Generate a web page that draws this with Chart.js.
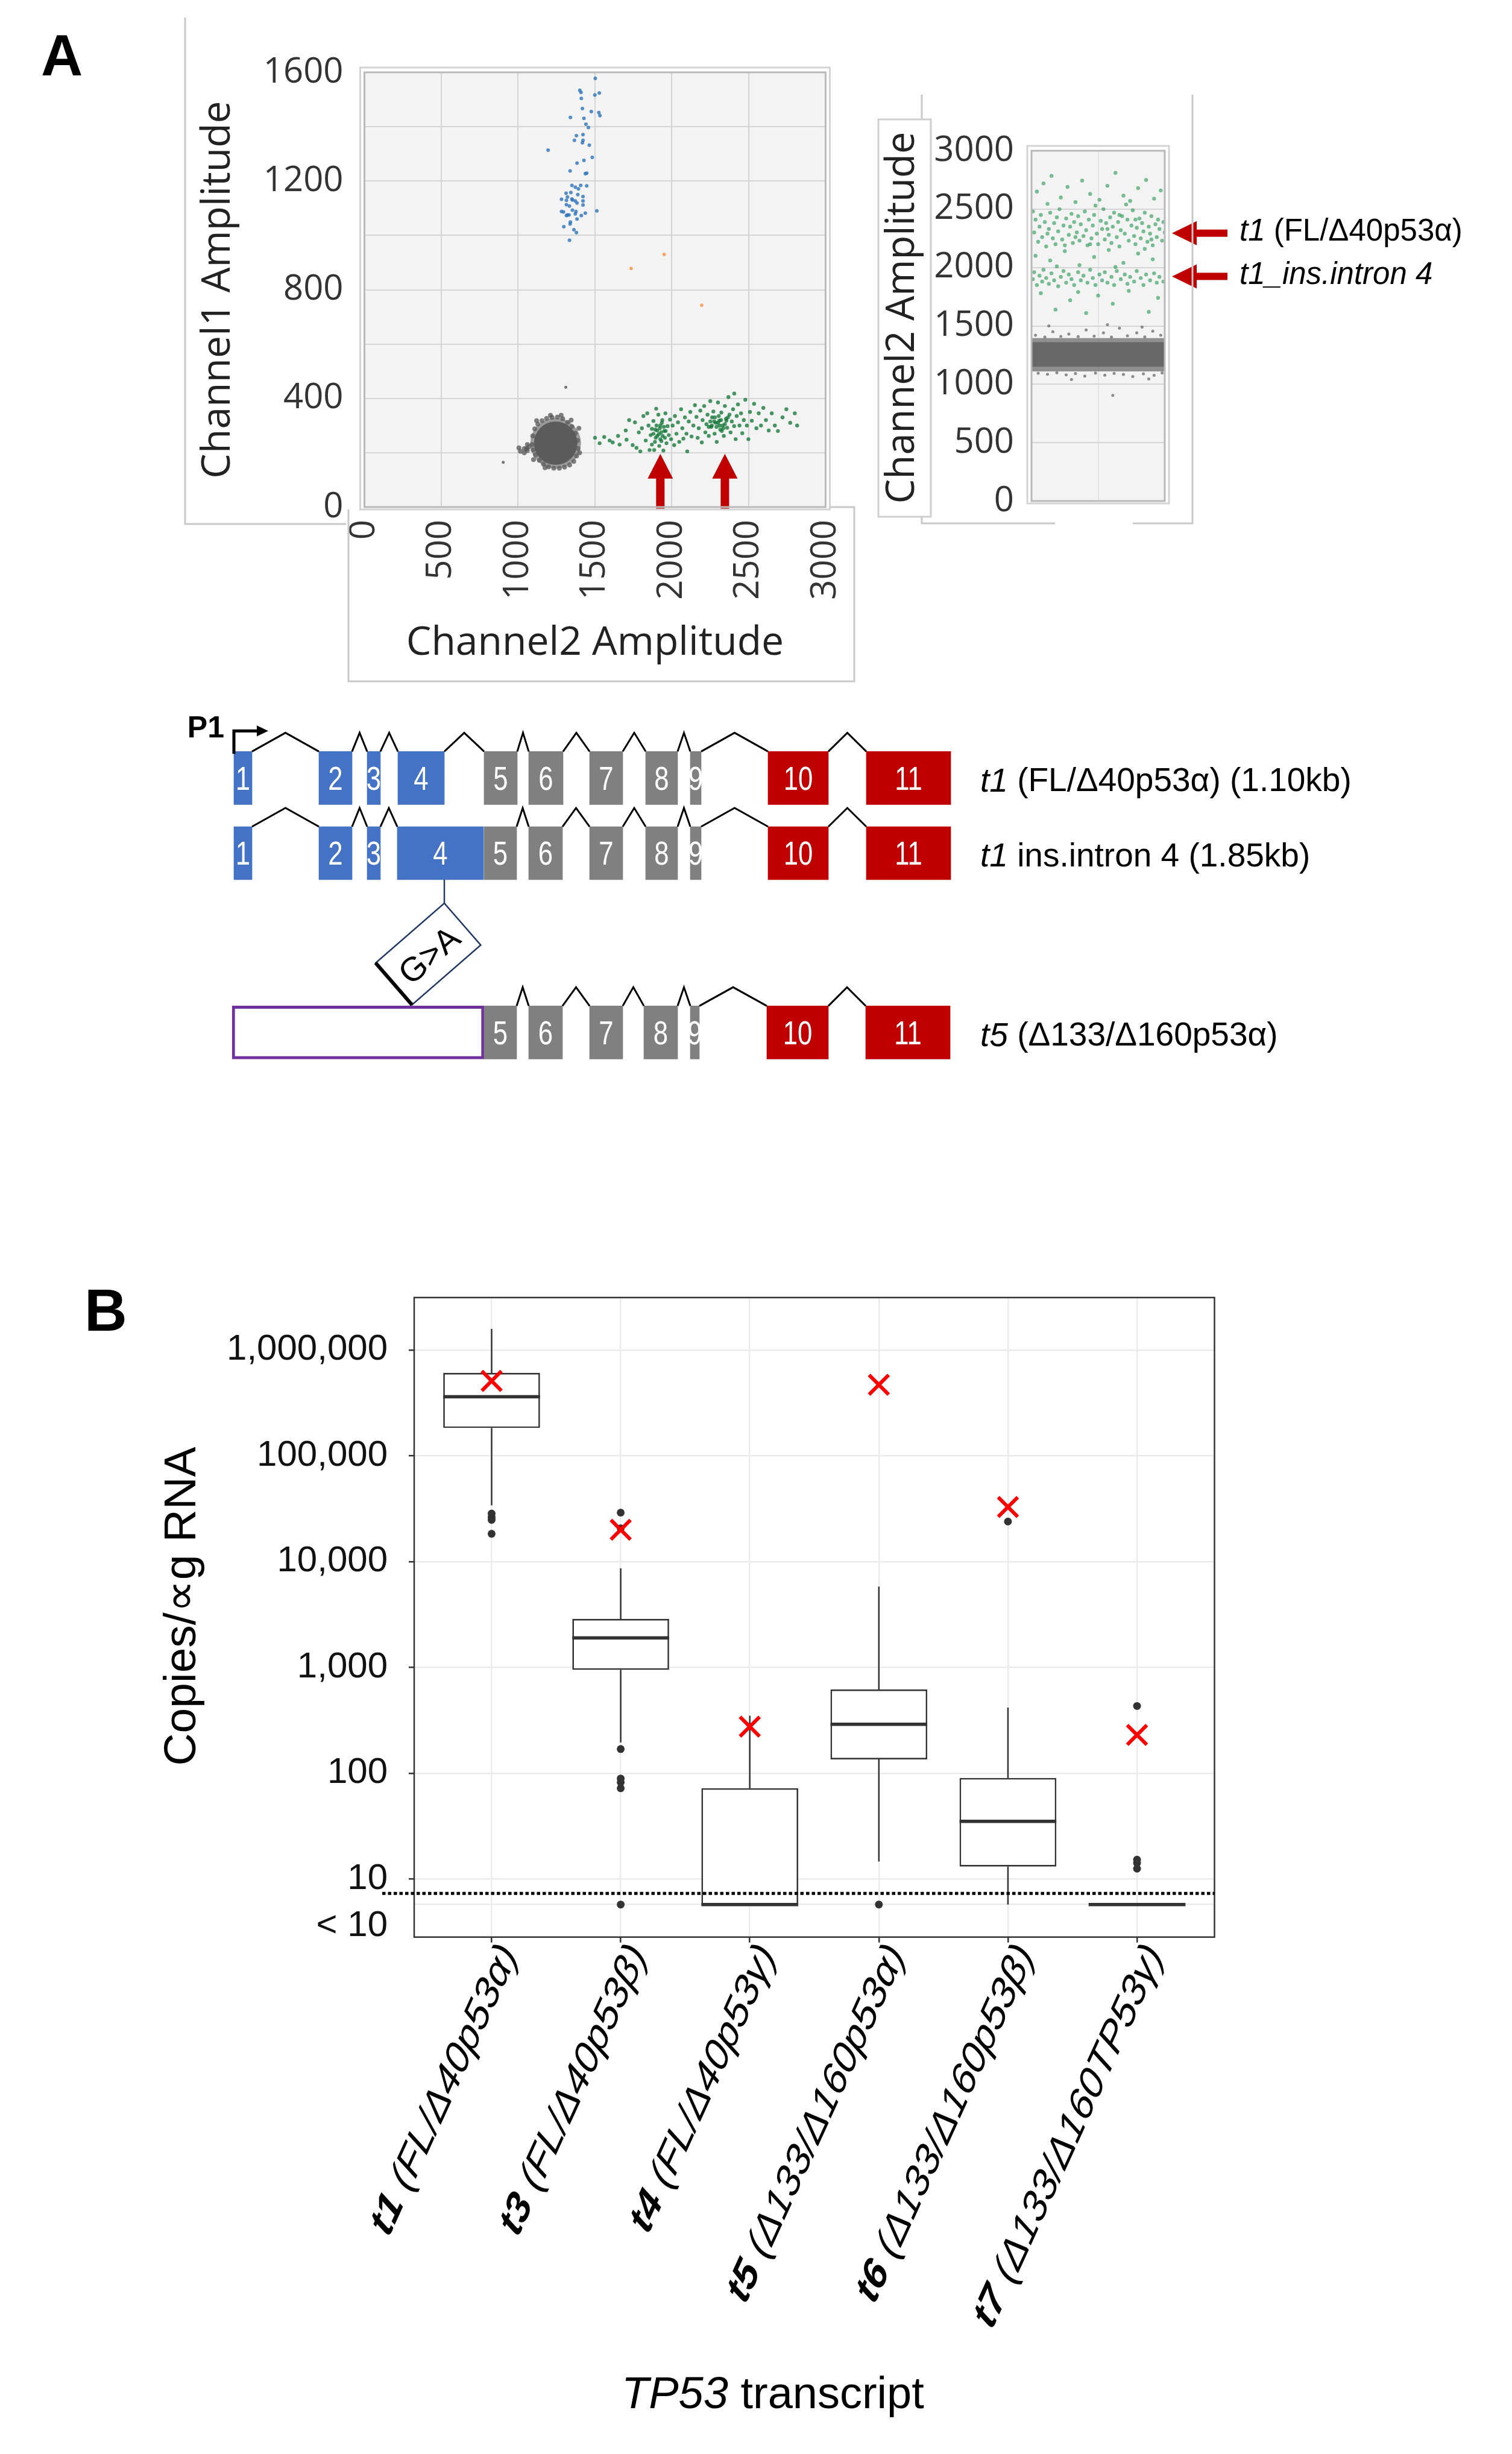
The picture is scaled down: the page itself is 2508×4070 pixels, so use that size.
<!DOCTYPE html>
<html>
<head>
<meta charset="utf-8">
<script src="https://cdn.jsdelivr.net/npm/chart.js@4.4.1/dist/chart.umd.min.js"></script>
<style>
  html, body { margin: 0; padding: 0; background: #fff; }
  body { width: 2508px; height: 4070px; position: relative; overflow: hidden; }
  .panel { position: absolute; left: 0; }
</style>
</head>
<body>
<div class="panel" style="top:0"><canvas id="drops2d" width="1460" height="1160"></canvas></div>
<div class="panel" style="top:0"><canvas id="drops1d" width="2508" height="900"></canvas></div>
<div class="panel" style="top:1150px"><canvas id="exons" width="2508" height="650"></canvas></div>
<div class="panel" style="top:2050px"><canvas id="boxes" width="2508" height="2020"></canvas></div>
<script>
// ---------- panel A : 2D droplet plot (Channel2 x, Channel1 y) ----------
const ch1Drops = [[1502,1578],[1401,1534],[1409,1526],[1411,1504],[1499,1517],[1528,1524],[1418,1467],[1476,1456],
  [1525,1452],[1532,1441],[1340,1434],[1428,1431],[1441,1409],[1457,1397],[1379,1367],[1366,1350],[1422,1371],
  [1422,1350],[1418,1341],[1463,1332],[1195,1314],[1482,1287],[1428,1276],[1383,1266],[1338,1237],[1437,1227],
  [1446,1229],[1350,1184],[1372,1177],[1407,1184],[1446,1182],[1312,1155],[1343,1158],[1388,1150],[1422,1143],
  [1321,1141],[1282,1133],[1314,1129],[1353,1130],[1372,1127],[1383,1119],[1422,1127],[1314,1113],[1334,1108],
  [1422,1112],[1353,1093],[1282,1088],[1314,1073],[1331,1075],[1372,1079],[1376,1088],[1411,1073],[1437,1082],
  [1512,1090],[1383,1060],[1340,1049],[1338,1042],[1297,1032],[1363,1021],[1379,1010],[1334,982],[1321,1075],
  [1295,1086],[1350,1134],[1392,1171]];
const ch2Drops = [[1500,255],[1530,235],[1560,258],[1595,245],[1615,238],[1650,262],[1660,230],[1700,282],
  [1705,248],[1722,320],[1745,228],[1760,312],[1770,218],[1785,275],[1795,205],[1805,290],[1815,335],[1830,245],
  [1840,345],[1848,300],[1855,210],[1862,265],[1870,230],[1880,317],[1885,210],[1892,285],[1898,362],[1905,262],
  [1912,340],[1918,225],[1925,300],[1932,243],[1938,320],[1945,208],[1950,280],[1958,345],[1965,235],[1972,298],
  [1980,265],[1988,322],[1995,250],[2005,300],[2015,228],[2020,335],[2030,270],[2040,312],[2048,240],[2060,360],
  [2068,290],[2075,252],[2085,330],[2095,270],[2100,205],[2110,315],[2120,350],[2128,260],[2140,300],[2150,375],
  [2160,332],[2168,255],[2175,290],[2185,355],[2195,238],[2200,320],[2210,372],[2218,275],[2225,305],[2232,340],
  [2240,262],[2250,390],[2256,295],[2262,330],[2270,352],[2278,270],[2285,310],[2292,240],[2300,385],[2308,318],
  [2315,285],[2322,348],[2330,300],[2338,262],[2345,372],[2352,325],[2360,292],[2368,405],[2375,340],[2382,275],
  [2390,315],[2398,360],[2405,298],[2415,250],[2422,335],[2430,378],[2440,300],[2450,345],[2458,272],[2468,320],
  [2478,395],[2488,300],[2498,250],[2508,350],[2520,318],[2535,380],[2550,290],[2565,345],[2580,300],[2595,365],
  [2612,320],[2630,282],[2650,345],[2670,300],[2690,280],[2720,330],[2745,360],[2770,310],[2800,345],[2815,300],
  [2406,418],[1880,270],[1895,255],[1905,282],[1915,268],[1922,290],[1930,275],[1940,262],[1948,295],[1900,300],
  [1925,250],[1960,280],[1870,288],[1935,310],[1890,240],[1955,255],[2260,300],[2275,315],[2290,295],[2300,310],
  [2310,300],[2320,320],[2335,290],[2280,330],[2305,335],[2345,305],[2250,315],[2325,280],[2355,318],[2240,295],
  [2365,330]];
const negCenter = [[1244,235]];
const negEdge = [[1090,230],[1095,262],[1108,288],[1128,305],[1155,318],[1185,326],[1220,330],[1255,331],
  [1290,325],[1322,312],[1350,296],[1372,272],[1386,245],[1390,215],[1380,188],[1362,168],[1335,155],[1302,147],
  [1268,143],[1232,143],[1198,148],[1165,158],[1138,172],[1112,192],[1097,210],[1070,222],[1060,208],[1395,290],
  [1120,318],[1400,200],[1345,320],[1175,145],[1280,338],[1210,338],[1100,175],[1060,230],[1040,215],[1005,218],
  [1015,205],[1040,200],[1055,215]];
const negStray = [[1310,441],[903,165]];
const doubleDrops = [[1735,878],[1950,930],[2194,743]];
const arrowX2d = [1925, 2345];
const arrowTip2d = 196;

// ---------- panel A : 1D Channel2 amplitude vs. event ----------
const ch2Events = [[4,2650],[9,2720],[15,2785],[22,2600],[27,2690],[33,2560],[38,2745],[44,2630],[51,2580],
  [57,2700],[63,2810],[69,2615],[74,2570],[80,2680],[86,2750],[92,2590],[97,2660],[48,2530],[12,2545],[71,2540],
  [1,2480],[2,2300],[3,2410],[5,2220],[6,2350],[7,2450],[8,2260],[10,2390],[11,2180],[13,2330],[14,2470],
  [16,2250],[17,2380],[18,2200],[19,2430],[20,2310],[21,2500],[23,2240],[24,2360],[25,2190],[26,2420],[28,2280],
  [29,2350],[30,2460],[31,2210],[32,2390],[34,2300],[35,2440],[36,2230],[37,2370],[39,2270],[40,2480],[41,2320],
  [42,2190],[43,2410],[45,2250],[46,2360],[47,2450],[49,2290],[50,2200],[52,2400],[53,2330],[54,2500],[55,2240],
  [56,2380],[58,2280],[59,2430],[60,2210],[61,2350],[62,2470],[64,2260],[65,2390],[66,2180],[67,2320],[68,2440],
  [70,2290],[72,2410],[73,2230],[75,2360],[76,2490],[77,2270],[78,2200],[79,2340],[81,2420],[82,2250],[83,2380],
  [84,2310],[85,2470],[87,2220],[88,2350],[89,2290],[90,2440],[91,2190],[93,2370],[94,2260],[95,2410],[96,2330],
  [98,2230],[99,2390],[100,2300],[12,2290],[33,2260],[57,2330],[78,2410],[44,2200],[66,2450],[90,2240],
  [3,2100],[14,2060],[25,2140],[36,2020],[47,2090],[58,2150],[69,2040],[80,2120],[91,2070],[19,2010],[63,2005],
  [85,2160],[1,1900],[2,1960],[4,1850],[6,1930],[8,1880],[9,1980],[11,1910],[13,1860],[15,1950],[17,1890],
  [20,1840],[22,1920],[24,1970],[26,1870],[28,1940],[30,1900],[32,1850],[35,1960],[37,1890],[39,1930],[42,1870],
  [44,1980],[46,1910],[48,1850],[51,1940],[53,1890],[55,1960],[57,1870],[60,1920],[62,1850],[64,1970],[67,1900],
  [70,1940],[72,1860],[74,1920],[77,1880],[79,1970],[82,1910],[84,1850],[86,1940],[89,1890],[92,1950],[94,1870],
  [96,1920],[99,1880],[7,1780],[18,1640],[29,1720],[41,1610],[50,1760],[61,1690],[73,1800],[88,1620],[95,1740],
  [35,1790]];
const negEvents = [[3,1420],[10,1405],[16,1450],[22,1410],[28,1430],[35,1408],[41,1465],[47,1412],[54,1440],
  [60,1404],[66,1480],[72,1415],[79,1440],[85,1406],[91,1455],[97,1420],[13,1500],[57,1510],[83,1490],[5,1095],
  [12,1085],[19,1098],[26,1080],[33,1092],[40,1070],[48,1096],[55,1078],[62,1094],[69,1084],[76,1066],[84,1090],
  [92,1076],[98,1097],[30,1040],[88,1045],[61,905]];
const negBandOuter = [1110, 1395];
const negBandCore = [1150, 1360];
const eventRange = [0, 100];
const arrowY1d = [2294, 1924];

// ---------- exon maps ----------
const rowPos = [0, 1, 3.384];
const exonsT1 = [[8,38],[149,204],[229,251],[280,357],[423,478],[497,554],[598,653],[691,744],[765,783],[894,994],[1057,1197]];
const exonsIntron4 = [[8,38],[149,204],[229,251],[279,422],[423,477],[497,553],[598,653],[691,744],[765,783],[894,994],[1057,1197]];
const exonsT5 = [[423,477],[497,553],[598,653],[688,744],[765,780],[892,994],[1056,1196]];
const t5NewStart = [5, 423];
const exonNames = [
  ['1','2','3','4','5','6','7','8','9','10','11'],
  ['1','2','3','4','5','6','7','8','9','10','11'],
  ['5','6','7','8','9','10','11']];
const transcriptTags = [['t1', ' (FL/\u039440p53\u03b1) (1.10kb)'], ['t1', ' ins.intron 4 (1.85kb)'], ['t5', ' (\u0394133/\u0394160p53\u03b1)']];
const mutationSite = 357;

// ---------- panel B : copies per ug RNA ----------
const transcriptIds = ['t1', 't3', 't4', 't5', 't6', 't7'];
const transcriptNames = [' (FL/\u039440p53\u03b1)', ' (FL/\u039440p53\u03b2)', ' (FL/\u039440p53\u03b3)',
  ' (\u0394133/\u0394160p53\u03b1)', ' (\u0394133/\u0394160p53\u03b2)', ' (\u0394133/\u0394160TP53\u03b3)'];
const BELOW_10 = 5.73;
const q1 = [1.83e5, 948, BELOW_10, 135, 13.1, BELOW_10];
const median = [3.62e5, 1900, BELOW_10, 290, 35, BELOW_10];
const q3 = [6.07e5, 2865, 72, 617, 90, BELOW_10];
const whiskerLo = [3.4e4, 195, null, 14.6, BELOW_10, null];
const whiskerHi = [1.58e6, 8630, 349, 5800, 417, null];
const outliers = [[2.84e4, 2.62e4, 2.48e4, 1.83e4], [2.9e4, 2.06e4, 169, 89, 82, 72, BELOW_10], [],
  [BELOW_10], [2.39e4], [431, 15.2, 14.1, 12.5]];
const cellLine = [5.1e5, 2.0e4, 275, 4.69e5, 3.28e4, 230];
const detectionLimit = 7.3;
const yTicks = [BELOW_10, 10, 100, 1000, 10000, 100000, 1000000];
const yTickLabels = [['', '< 10'], '10', '100', '1,000', '10,000', '100,000', '1,000,000'];
const yRange = [2.82, 3.13e6];

Chart.defaults.font.family = "'Liberation Sans', Arial, sans-serif";
Chart.defaults.color = '#000';
Chart.defaults.animation = false;

const QS = "'Open Sans', 'Noto Sans', sans-serif";
const AR = "'Liberation Sans', Arial, sans-serif";
const noPlugins = { legend: { display: false }, tooltip: { enabled: false } };
const dots = (arr, color, r) => ({
  data: arr.map(([x, y]) => ({ x, y })), backgroundColor: color, borderWidth: 0,
  pointRadius: r, pointHoverRadius: r
});
const plain = v => String(v);

function line(ctx, pts, color, width) {
  ctx.strokeStyle = color;
  ctx.lineWidth = width;
  ctx.beginPath();
  ctx.moveTo(pts[0][0], pts[0][1]);
  for (let i = 1; i < pts.length; i++) ctx.lineTo(pts[i][0], pts[i][1]);
  ctx.stroke();
}

function qsFrame(chart) {
  const { ctx, chartArea: a } = chart;
  ctx.save();
  ctx.strokeStyle = '#b9b9b9';
  ctx.lineWidth = 3;
  ctx.strokeRect(a.left, a.top, a.right - a.left, a.bottom - a.top);
  ctx.strokeStyle = '#d4d4d4';
  ctx.strokeRect(a.left - 7, a.top - 8, a.right - a.left + 14, a.bottom - a.top + 12);
  ctx.restore();
}

const qsBackground = {
  id: 'qsBackground',
  beforeDraw(chart) {
    const { ctx, chartArea: a } = chart;
    ctx.save();
    ctx.fillStyle = '#f3f3f3';
    ctx.fillRect(a.left, a.top, a.right - a.left, a.bottom - a.top);
    ctx.restore();
  }
};

// ---------- chart: 2D droplets ----------
const drops2dDecor = {
  id: 'drops2dDecor',
  afterDatasetsDraw(chart) {
    const { ctx, chartArea: a, scales: { x } } = chart;
    const yTip = chart.scales.y.getPixelForValue(arrowTip2d);
    ctx.save();
    ctx.fillStyle = '#c00000';
    arrowX2d.forEach(v => {
      const px = x.getPixelForValue(v);
      ctx.fillRect(px - 7, yTip + 34, 14, a.bottom + 5 - yTip - 34);
      ctx.beginPath();
      ctx.moveTo(px, yTip);
      ctx.lineTo(px + 21, yTip + 41);
      ctx.lineTo(px - 21, yTip + 41);
      ctx.closePath();
      ctx.fill();
    });
    ctx.restore();
  },
  afterDraw(chart) {
    const { ctx, chartArea: a } = chart;
    qsFrame(chart);
    ctx.save();
    line(ctx, [[307, 29], [307, 869], [574, 869]], '#c8c8c8', 3);
    line(ctx, [[578, 845], [578, 1130], [1417, 1130], [1417, 841], [a.right + 7, 841]], '#c8c8c8', 3);
    ctx.fillStyle = '#222';
    ctx.font = `66px ${QS}`;
    ctx.textAlign = 'center';
    ctx.textBaseline = 'alphabetic';
    ctx.fillText('Channel2 Amplitude', (a.left + a.right) / 2, 1086);
    ctx.translate(362, (a.top + a.bottom) / 2);
    ctx.rotate(-Math.PI / 2);
    ctx.textBaseline = 'middle';
    ctx.fillText('Channel1 Amplitude', 0, 0);
    ctx.restore();
    ctx.save();
    ctx.fillStyle = '#000';
    ctx.font = `bold 96px ${AR}`;
    ctx.fillText('A', 68, 125);
    ctx.restore();
  }
};

new Chart(document.getElementById('drops2d'), {
  type: 'scatter',
  data: {
    datasets: [
      dots(negCenter, 'rgba(95,95,95,0.6)', 42),
      dots(negCenter, '#565656', 36),
      dots(negEdge, 'rgba(85,85,85,0.75)', 4),
      dots(negStray, 'rgba(85,85,85,0.8)', 2.5),
      dots(ch1Drops, 'rgba(45,115,185,0.8)', 3),
      dots(ch2Drops, 'rgba(12,115,50,0.75)', 3.2),
      dots(doubleDrops, 'rgba(245,150,80,0.85)', 2.8)
    ]
  },
  options: {
    responsive: false, devicePixelRatio: 1, animation: false,
    layout: { padding: { top: 120, right: 82, left: 0, bottom: 0 } },
    plugins: noPlugins,
    scales: {
      x: {
        min: 0, max: 3000,
        afterFit: s => { s.height = 319; },
        ticks: { stepSize: 500, minRotation: 90, maxRotation: 90, padding: 21, autoSkip: false,
          font: { family: QS, size: 58 }, color: '#333', callback: plain },
        grid: { color: '#d4d4d4', lineWidth: 2, drawTicks: false },
        border: { display: false }
      },
      y: {
        min: 0, max: 1600,
        afterFit: s => { s.width = 604.5; },
        ticks: { stepSize: 200, padding: 35, autoSkip: false, font: { family: QS, size: 58 }, color: '#333',
          callback: v => (v % 400 === 0 ? String(v) : '') },
        grid: { color: '#d4d4d4', lineWidth: 2, drawTicks: false },
        border: { display: false }
      }
    }
  },
  plugins: [qsBackground, drops2dDecor]
});

// ---------- chart: 1D droplets ----------
const drops1dDecor = {
  id: 'drops1dDecor',
  afterDatasetsDraw(chart) {
    const { ctx, chartArea: a, scales: { y } } = chart;
    ctx.save();
    arrowY1d.forEach((v, i) => {
      const py = y.getPixelForValue(v);
      const tip = a.right + 12;
      ctx.fillStyle = '#c00000';
      ctx.fillRect(tip + 34, py - 6, 58, 12);
      ctx.beginPath();
      ctx.moveTo(tip, py);
      ctx.lineTo(tip + 41, py - 20);
      ctx.lineTo(tip + 41, py + 20);
      ctx.closePath();
      ctx.fill();
      ctx.fillStyle = '#000';
      ctx.textBaseline = 'middle';
      ctx.textAlign = 'left';
      if (i === 0) {
        ctx.font = `italic 51px ${AR}`;
        ctx.fillText('t1', a.right + 124, py - 2);
        const w = ctx.measureText('t1').width;
        ctx.font = `51px ${AR}`;
        ctx.fillText(' (FL/\u039440p53\u03b1)', a.right + 124 + w, py - 2);
      } else {
        ctx.font = `italic 51px ${AR}`;
        ctx.fillText('t1_ins.intron 4', a.right + 124, py - 2);
      }
    });
    ctx.restore();
  },
  afterDraw(chart) {
    const { ctx } = chart;
    qsFrame(chart);
    ctx.save();
    line(ctx, [[1529, 157], [1529, 868], [1750, 868]], '#c8c8c8', 3);
    line(ctx, [[1879, 868], [1978, 868], [1978, 157]], '#c8c8c8', 3);
    ctx.fillStyle = '#fff';
    ctx.fillRect(1457, 198, 87, 659);
    ctx.strokeStyle = '#cfcfcf';
    ctx.lineWidth = 3;
    ctx.strokeRect(1457, 198, 87, 659);
    ctx.fillStyle = '#222';
    ctx.font = `65px ${QS}`;
    ctx.textAlign = 'center';
    ctx.textBaseline = 'middle';
    ctx.translate(1497, 527);
    ctx.rotate(-Math.PI / 2);
    ctx.fillText('Channel2 Amplitude', 0, 0);
    ctx.restore();
  }
};

const band = (range, color) => ({
  type: 'line',
  data: [{ x: eventRange[0] - 2, y: range[1] }, { x: eventRange[1] + 2, y: range[1] }],
  fill: { value: range[0] }, backgroundColor: color, borderWidth: 0, pointRadius: 0
});

new Chart(document.getElementById('drops1d'), {
  type: 'scatter',
  data: {
    datasets: [
      band(negBandOuter, 'rgba(110,110,110,0.75)'),
      band(negBandCore, '#555555'),
      dots(negEvents, 'rgba(95,95,95,0.7)', 2.5),
      dots(ch2Events, 'rgba(35,150,80,0.6)', 3.2)
    ]
  },
  options: {
    responsive: false, devicePixelRatio: 1, animation: false,
    layout: { padding: { top: 250, right: 576, left: 0, bottom: 69 } },
    plugins: noPlugins,
    scales: {
      x: {
        min: eventRange[0], max: eventRange[1],
        afterFit: s => { s.height = 0; },
        ticks: { display: false, stepSize: 50 },
        grid: { color: '#e3e3e3', lineWidth: 2, drawTicks: false },
        border: { display: false }
      },
      y: {
        min: 0, max: 3000,
        afterFit: s => { s.width = 1711; },
        ticks: { stepSize: 500, padding: 29, autoSkip: false, font: { family: QS, size: 58 }, color: '#333',
          callback: plain },
        grid: { color: '#d4d4d4', lineWidth: 2, drawTicks: false },
        border: { display: false }
      }
    }
  },
  plugins: [qsBackground, drops1dDecor]
});

// ---------- chart: exon maps ----------
const exonColor = n => (n <= 4 ? '#4472c4' : n <= 9 ? '#808080' : '#c00000');
const exonRows = [exonsT1, exonsIntron4, exonsT5];
const exonBars = [], exonFill = [], exonText = [];
exonRows.forEach((row, r) => row.forEach(([s, e], k) => {
  exonBars.push({ x: [s, e], y: rowPos[r] });
  exonFill.push(exonColor(+exonNames[r][k]));
  exonText.push(exonNames[r][k]);
}));
const HALF = 44;

const exonDecor = {
  id: 'exonDecor',
  afterDatasetsDraw(chart) {
    const { ctx, chartArea: a, scales: { x, y } } = chart;
    ctx.save();
    // exon numbers
    ctx.fillStyle = '#fff';
    ctx.font = `56px ${AR}`;
    ctx.textAlign = 'center';
    ctx.textBaseline = 'middle';
    chart.getDatasetMeta(0).data.forEach((bar, i) => {
      const p = bar.getProps(['x', 'base', 'y'], true);
      ctx.save();
      ctx.translate((p.x + p.base) / 2, p.y + 4);
      ctx.scale(0.78, 1);
      ctx.fillText(exonText[i], 0, 0);
      ctx.restore();
    });
    // splice carets
    const caretRows = [exonsT1, exonsIntron4, [t5NewStart].concat(exonsT5)];
    caretRows.forEach((row, r) => {
      const top = y.getPixelForValue(rowPos[r]) - HALF;
      for (let k = 0; k < row.length - 1; k++) {
        const x0 = x.getPixelForValue(row[k][1]);
        const x1 = x.getPixelForValue(row[k + 1][0]);
        if (x1 - x0 < 4) continue;
        line(ctx, [[x0, top], [(x0 + x1) / 2, top - 31], [x1, top]], '#000', 3);
      }
    });
    // P1 promoter
    const e1 = x.getPixelForValue(exonsT1[0][0]);
    const top1 = y.getPixelForValue(rowPos[0]) - HALF;
    line(ctx, [[e1, top1 + 4], [e1, top1 - 34], [e1 + 40, top1 - 34]], '#000', 5);
    ctx.fillStyle = '#000';
    ctx.beginPath();
    ctx.moveTo(e1 + 57, top1 - 34);
    ctx.lineTo(e1 + 38, top1 - 43);
    ctx.lineTo(e1 + 38, top1 - 25);
    ctx.closePath();
    ctx.fill();
    ctx.font = `bold 50px ${AR}`;
    ctx.textAlign = 'right';
    ctx.textBaseline = 'alphabetic';
    ctx.fillText('P1', e1 - 16, top1 - 23);
    // transcript names
    ctx.textAlign = 'left';
    ctx.textBaseline = 'middle';
    transcriptTags.forEach(([id, rest], r) => {
      const py = y.getPixelForValue(rowPos[r]) + 7;
      ctx.font = `italic 55px ${AR}`;
      ctx.fillText(id, a.right + 16, py);
      const w = ctx.measureText(id).width;
      ctx.font = `55px ${AR}`;
      ctx.fillText(rest, a.right + 16 + w, py);
    });
    // G>A mutation tag
    const mx = x.getPixelForValue(mutationSite);
    const my = y.getPixelForValue(rowPos[1]) + HALF;
    line(ctx, [[mx, my], [mx, my + 39]], '#203864', 2.5);
    ctx.translate(mx - 26.8, my + 39 + 84.2);
    ctx.rotate(-41 * Math.PI / 180);
    ctx.fillStyle = '#fff';
    ctx.fillRect(-75.5, -46, 151, 92);
    ctx.strokeStyle = '#203864';
    ctx.lineWidth = 2.5;
    ctx.strokeRect(-75.5, -46, 151, 92);
    line(ctx, [[-75.5, -46], [-75.5, 46]], '#000', 6);
    ctx.fillStyle = '#000';
    ctx.font = `56px ${AR}`;
    ctx.textAlign = 'center';
    ctx.fillText('G>A', 0, 6);
    ctx.restore();
  }
};

new Chart(document.getElementById('exons'), {
  type: 'bar',
  data: {
    datasets: [
      { data: exonBars, backgroundColor: exonFill, borderWidth: 0, barThickness: 88, grouped: false },
      { data: [{ x: t5NewStart, y: rowPos[2] }], backgroundColor: '#fff', borderColor: '#7030a0',
        borderWidth: 5, borderSkipped: false, barThickness: 88, grouped: false }
    ]
  },
  options: {
    indexAxis: 'y',
    responsive: false, devicePixelRatio: 1, animation: false,
    layout: { padding: { top: 65.5, right: 898, left: 380, bottom: 35.8 } },
    plugins: noPlugins,
    scales: {
      x: { type: 'linear', min: 0, max: 1230, display: false },
      y: { type: 'linear', min: -0.6, max: 3.8, reverse: true, display: false, offset: false }
    }
  },
  plugins: [exonDecor]
});

// ---------- chart: box plots ----------
const OY = 2050;
const boxDecor = {
  id: 'boxDecor',
  beforeDatasetsDraw(chart) {
    const { ctx, scales: { x, y } } = chart;
    ctx.save();
    transcriptIds.forEach((_, i) => {
      const px = x.getPixelForValue(i);
      if (whiskerHi[i] !== null) line(ctx, [[px, y.getPixelForValue(q3[i])], [px, y.getPixelForValue(whiskerHi[i])]], '#333', 2.5);
      if (whiskerLo[i] !== null) line(ctx, [[px, y.getPixelForValue(q1[i])], [px, y.getPixelForValue(whiskerLo[i])]], '#333', 2.5);
    });
    ctx.restore();
  },
  afterDatasetDraw(chart, args) {
    if (args.index !== 0) return;
    const { ctx, scales: { y } } = chart;
    ctx.save();
    args.meta.data.forEach((bar, i) => {
      const p = bar.getProps(['x', 'width'], true);
      const py = y.getPixelForValue(median[i]);
      line(ctx, [[p.x - p.width / 2, py], [p.x + p.width / 2, py]], '#333', 5.5);
    });
    ctx.restore();
  },
  afterDraw(chart) {
    const { ctx, chartArea: a, scales: { x, y } } = chart;
    ctx.save();
    ctx.strokeStyle = '#333';
    ctx.lineWidth = 2.5;
    ctx.strokeRect(a.left, a.top, a.right - a.left, a.bottom - a.top);
    const dy = y.getPixelForValue(detectionLimit);
    ctx.setLineDash([5.5, 4]);
    line(ctx, [[a.left - 53, dy], [a.right, dy]], '#000', 5);
    ctx.setLineDash([]);
    ctx.fillStyle = '#000';
    transcriptIds.forEach((id, i) => {
      ctx.save();
      ctx.translate(x.getPixelForValue(i) + 30, a.bottom + 19);
      ctx.scale(0.95, 1.2);
      ctx.rotate(-60 * Math.PI / 180);
      ctx.textAlign = 'right';
      ctx.textBaseline = 'middle';
      ctx.font = `italic 62px ${AR}`;
      const w = ctx.measureText(transcriptNames[i]).width;
      ctx.fillText(transcriptNames[i], 0, 0);
      ctx.font = `italic bold 62px ${AR}`;
      ctx.fillText(id, -w, 0);
      ctx.restore();
    });
    ctx.textAlign = 'left';
    ctx.textBaseline = 'alphabetic';
    ctx.font = `italic 74px ${AR}`;
    ctx.fillText('TP53', 1031, 3994 - OY);
    const w = ctx.measureText('TP53').width;
    ctx.font = `74px ${AR}`;
    ctx.fillText(' transcript', 1031 + w, 3994 - OY);
    ctx.font = `bold 98px ${AR}`;
    ctx.fillText('B', 140, 2207 - OY);
    ctx.translate(303, 2664 - OY);
    ctx.rotate(-Math.PI / 2);
    ctx.textAlign = 'center';
    ctx.textBaseline = 'middle';
    ctx.font = `75px ${AR}`;
    ctx.fillText('Copies/\u221dg RNA', 0, 0);
    ctx.restore();
  }
};

const outlierPts = [];
outliers.forEach((vals, i) => vals.forEach(v => outlierPts.push({ x: i, y: v })));

new Chart(document.getElementById('boxes'), {
  type: 'bar',
  data: {
    datasets: [
      { type: 'bar', data: transcriptIds.map((_, i) => ({ x: i, y: [q1[i], q3[i]] })),
        backgroundColor: '#fff', borderColor: '#333', borderWidth: 2.7, borderSkipped: false,
        barPercentage: 0.75, categoryPercentage: 1, order: 2 },
      { type: 'scatter', data: outlierPts, backgroundColor: '#333', borderWidth: 0, pointRadius: 6.5, order: 1 },
      { type: 'scatter', data: cellLine.map((v, i) => ({ x: i, y: v })), pointStyle: 'crossRot',
        pointRadius: 23, borderColor: '#ff0000', backgroundColor: '#ff0000', borderWidth: 6, order: 0 }
    ]
  },
  options: {
    responsive: false, devicePixelRatio: 1, animation: false,
    layout: { padding: { top: 102, right: 493.5, left: 0, bottom: 0 } },
    plugins: noPlugins,
    scales: {
      x: {
        type: 'linear', min: -0.6, max: 5.6, offset: false,
        afterFit: s => { s.height = 857.3; },
        afterBuildTicks: s => { s.ticks = transcriptIds.map((_, i) => ({ value: i })); },
        ticks: { callback: () => '', font: { size: 10 } },
        grid: { color: '#ebebeb', lineWidth: 2.5, tickLength: 9, tickColor: '#333', tickWidth: 2.5, offset: false },
        border: { display: false }
      },
      y: {
        type: 'logarithmic', min: yRange[0], max: yRange[1],
        afterFit: s => { s.width = 687; },
        afterBuildTicks: s => { s.ticks = yTicks.map(v => ({ value: v })); },
        ticks: { autoSkip: false, padding: 35, color: '#111', font: { family: AR, size: 60 },
          callback: (v, i) => yTickLabels[i] },
        grid: { color: '#ebebeb', lineWidth: 2.5, tickLength: 9, tickWidth: 2.5,
          tickColor: c => (c.tick && c.tick.value < detectionLimit ? 'rgba(0,0,0,0)' : '#333') },
        border: { display: false }
      }
    }
  },
  plugins: [boxDecor]
});
</script>
</body>
</html>
